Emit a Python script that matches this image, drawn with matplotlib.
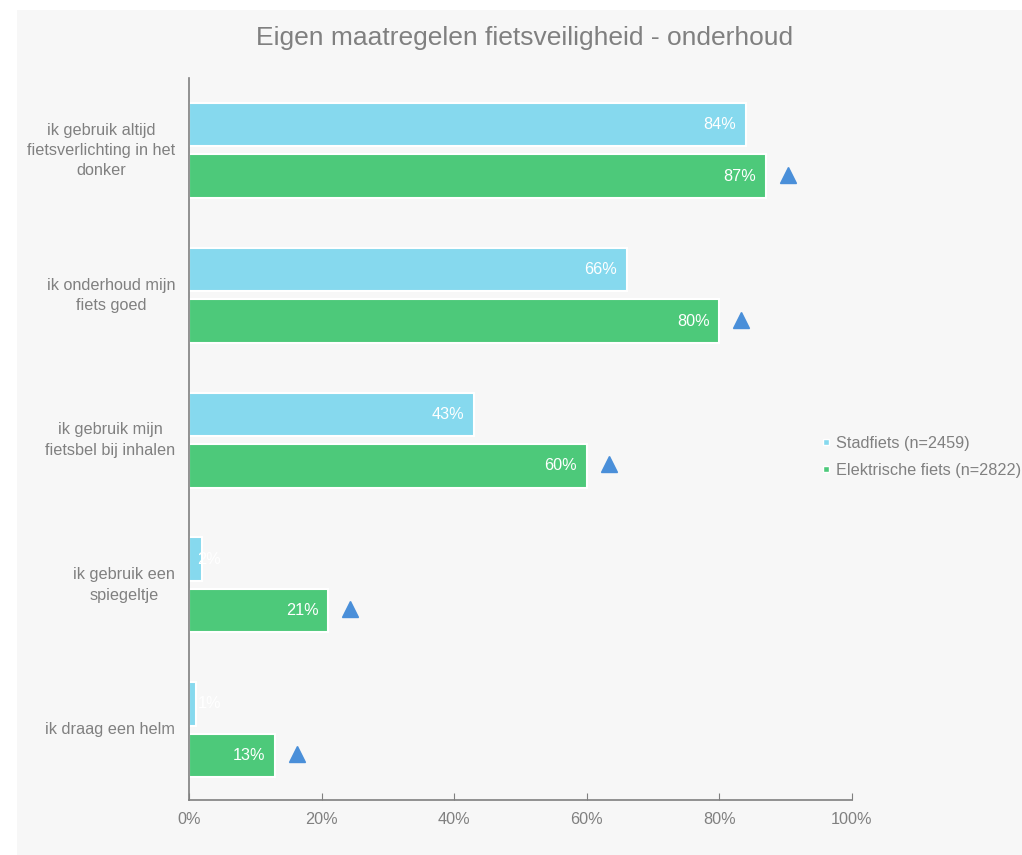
import matplotlib
matplotlib.use("Agg")
import matplotlib.pyplot as plt
from matplotlib.patches import Rectangle
from matplotlib.lines import Line2D
import numpy as np

plt.rcParams['font.family'] = ['Liberation Sans', 'DejaVu Sans']

categories = [
    "ik gebruik altijd\nfietsverlichting in het\ndonker",
    "ik onderhoud mijn\nfiets goed",
    "ik gebruik mijn\nfietsbel bij inhalen",
    "ik gebruik een\nspiegeltje",
    "ik draag een helm",
]
stadfiets = [84, 66, 43, 2, 1]
elektrisch = [87, 80, 60, 21, 13]
significant = [True, True, True, True, True]
series_names = ["Stadfiets (n=2459)", "Elektrische fiets (n=2822)"]
title = "Eigen maatregelen fietsveiligheid - onderhoud"
xticks = [0, 20, 40, 60, 80, 100]

c_stad = "#86d9ee"
c_elek = "#4dc97a"
c_tri = "#4a8fd9"
grey = "#808080"
bg = "#f7f7f7"
fs = 11.7

fig = plt.figure(figsize=(10.22, 8.55), dpi=100)
fig.patch.set_facecolor("white")
fig.patches.append(Rectangle((17/1022, 0), 1 - 17/1022, 1 - 10/855,
                             transform=fig.transFigure, facecolor=bg,
                             edgecolor="none", zorder=-10))

ax = fig.add_axes([189/1022, 1 - 800/855, (852-189)/1022, (800-78)/855])
ax.set_facecolor(bg)
ax.patch.set_alpha(0)
ax.set_zorder(5)

y = np.arange(len(categories))
h = 0.3
off = 0.178
ax.barh(y - off, stadfiets, height=h, color=c_stad, edgecolor="white", linewidth=1.5, zorder=2)
ax.barh(y + off, elektrisch, height=h, color=c_elek, edgecolor="white", linewidth=1.5, zorder=2)

for i in range(len(categories)):
    for val, yy in ((stadfiets[i], y[i] - off), (elektrisch[i], y[i] + off)):
        if val >= 6:
            ax.annotate(f"{val}%", (val, yy), xytext=(-7, 0), textcoords="offset points",
                        ha="right", va="center", color="white", fontsize=fs, zorder=3)
        else:
            ax.annotate(f"{val}%", (0, yy), xytext=(6, 0), textcoords="offset points",
                        ha="left", va="center", color="white", fontsize=fs, zorder=3)
    if significant[i]:
        ax.plot(elektrisch[i] + 3.3, y[i] + off - 0.01, marker="^", markersize=12,
                color=c_tri, linestyle="none", zorder=3, clip_on=False)

ax.set_xlim(0, 100)
ax.set_ylim(4.485, -0.5)
ax.set_xticks(xticks)
ax.set_xticklabels([f"{t}%" for t in xticks])
ax.set_yticks(y)
ax.set_yticklabels(categories)
for lab in ax.get_yticklabels():
    lab.set_horizontalalignment("right")
    lab.set_verticalalignment("center")
    lab.set_multialignment("center")
    lab.set_linespacing(1.45)
ax.tick_params(axis="y", length=0, pad=10, labelsize=fs, labelcolor=grey)
ax.tick_params(axis="x", direction="in", length=5, color=grey, labelsize=fs,
               labelcolor=grey, pad=8.5)
for s in ("top", "right"):
    ax.spines[s].set_visible(False)
for s in ("left", "bottom"):
    ax.spines[s].set_color(grey)
    ax.spines[s].set_linewidth(1.2)

fig.text(525/1022, 1 - 38/855, title, ha="center", va="center", fontsize=19, color=grey)

handles = [Line2D([], [], marker="s", linestyle="none", markersize=5, color=c_stad,
                  markeredgecolor="white"),
           Line2D([], [], marker="s", linestyle="none", markersize=5, color=c_elek,
                  markeredgecolor="white")]
leg = fig.legend(handles, series_names, loc="center left",
                 bbox_to_anchor=(821/1022, 1 - 457/855), frameon=False,
                 fontsize=fs, handlelength=0.6, handletextpad=0.3, labelspacing=0.75,
                 borderaxespad=0, borderpad=0)
for t in leg.get_texts():
    t.set_color(grey)

fig.savefig("out.png", dpi=100, facecolor=fig.get_facecolor())
